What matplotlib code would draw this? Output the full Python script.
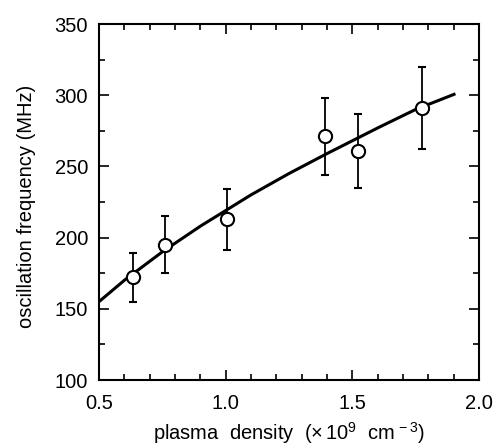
import matplotlib
matplotlib.use("Agg")
import matplotlib.pyplot as plt
from matplotlib.ticker import MultipleLocator, FormatStrFormatter

# data
density = [0.634, 0.761, 1.006, 1.393, 1.521, 1.775]
frequency = [172, 195, 213, 271, 261, 291]
err_low = [17, 20, 22, 27, 26, 29]
err_high = [17, 20, 21, 27, 26, 29]

curve_x = [0.5, 0.6, 0.75, 0.9, 1.0, 1.1, 1.25, 1.4, 1.5, 1.6, 1.75, 1.907]
curve_y = [155, 170, 190, 208, 219, 230, 245, 259, 268, 277, 290, 301]

plt.rcParams['font.family'] = ['Liberation Sans', 'DejaVu Sans']
plt.rcParams['mathtext.fontset'] = 'custom'
plt.rcParams['mathtext.rm'] = 'Liberation Sans'
plt.rcParams['mathtext.it'] = 'Liberation Sans'

fig = plt.figure(figsize=(4.99, 4.45), dpi=100)
ax = fig.add_axes([99/499, 1-380/445, 380/499, 356/445])

ax.plot(curve_x, curve_y, color='black', lw=2.2, solid_capstyle='butt')
ax.errorbar(density, frequency, yerr=[err_low, err_high], fmt='o', mfc='white',
            mec='black', mew=1.5, ms=9.5, ecolor='black', elinewidth=1.3,
            capsize=2.6, capthick=1.3, zorder=3)

ax.set_xlim(0.5, 2.0)
ax.set_ylim(100, 350)
ax.xaxis.set_major_locator(MultipleLocator(0.5))
ax.xaxis.set_minor_locator(MultipleLocator(0.1))
ax.yaxis.set_major_locator(MultipleLocator(50))
ax.yaxis.set_minor_locator(MultipleLocator(25))
ax.xaxis.set_major_formatter(FormatStrFormatter('%.1f'))

ax.tick_params(which='both', direction='in', top=True, right=True, width=1.2)
ax.tick_params(which='major', length=7.5, labelsize=14.5)
ax.tick_params(axis='x', which='major', pad=10)
ax.tick_params(axis='y', which='major', pad=8)
ax.tick_params(which='minor', length=4)
for s in ax.spines.values():
    s.set_linewidth(1.5)

ax.set_xlabel(r'plasma  density  $(\times\,10^{9}\ \ \mathrm{cm}^{\,-3})$', fontsize=14.5)
ax.xaxis.label.set_va('bottom')
ax.xaxis.set_label_coords(0.5, -0.185)
ax.set_ylabel('oscillation frequency (MHz)', fontsize=14.5)
ax.yaxis.set_label_coords(-0.165, 0.489)

fig.savefig('out.png', dpi=100)
